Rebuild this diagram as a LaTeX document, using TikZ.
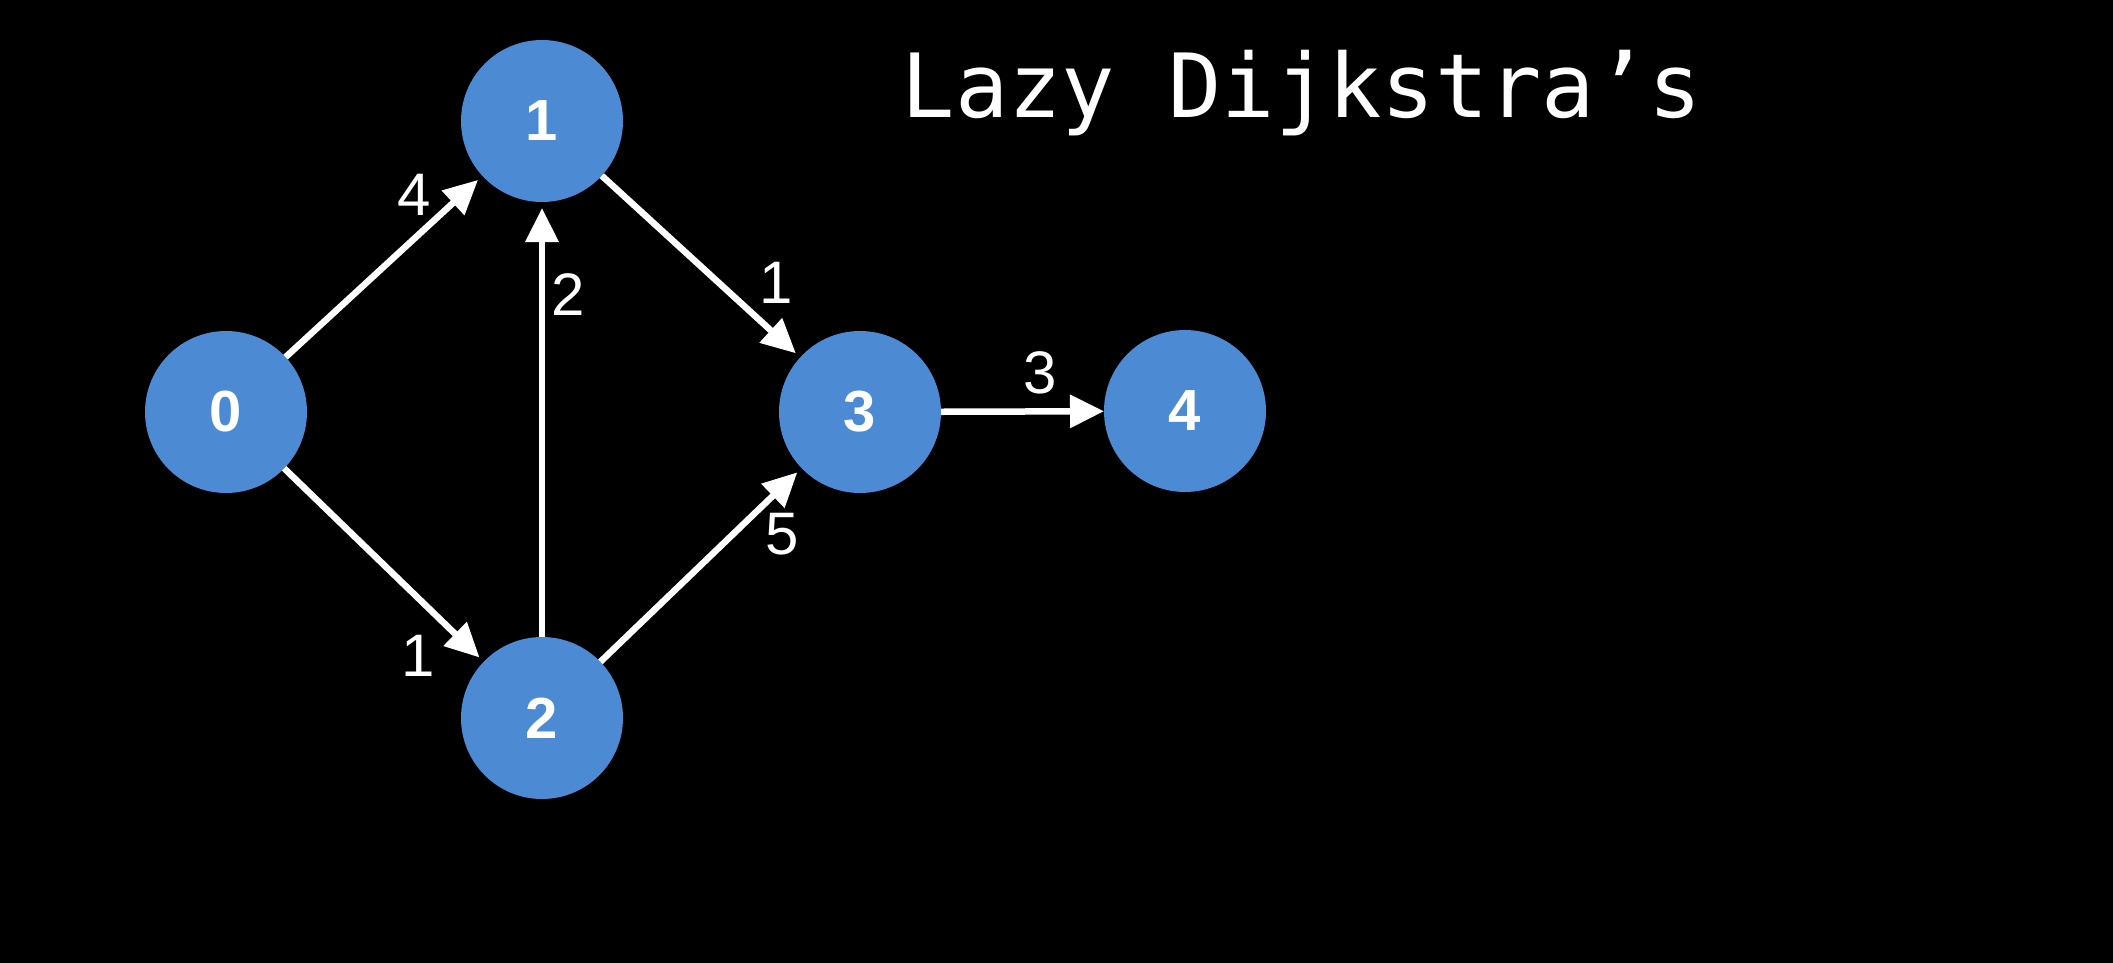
\documentclass[tikz,border=0pt]{standalone}
\usepackage{fontspec}
\setmainfont{Liberation Sans}
\newfontfamily\titlefont{DejaVu Sans Mono}
\usetikzlibrary{arrows.meta}
\definecolor{nodeblue}{RGB}{76,138,212}
\tikzset{
  vert/.style={circle, fill=nodeblue, minimum size=162pt, inner sep=0pt, outer sep=0pt,
    text=white, font=\fontsize{58}{58}\selectfont\bfseries},
  edge/.style={draw=white, line width=6.5pt, -{Triangle[length=34pt,width=32pt]}, shorten >=6pt},
  wlabel/.style={text=white, font=\fontsize{60}{60}\selectfont, inner sep=0pt},
}
\begin{document}
\begin{tikzpicture}[x=1pt,y=-1pt]
\useasboundingbox (0,0) rectangle (2113,962);
\fill[black] (-20,-20) rectangle (2133,982);
\node[vert] (n0) at (226,412) {0};
\node[vert] (n1) at (542,121) {1};
\node[vert] (n2) at (542,718) {2};
\node[vert] (n3) at (860,412) {3};
\node[vert] (n4) at (1185,411) {4};
\draw[edge] (n0) -- (n1);
\draw[edge] (n0) -- (n2);
\draw[edge] (n2) -- (n1);
\draw[edge] (n1) -- (n3);
\draw[edge] (n2) -- (n3);
\draw[edge, shorten >=0pt] (n3) -- (n4);
\node[wlabel] (l01) at (414,195) {4};
\node[wlabel] (l21) at (568,295) {2};
\node[wlabel] (l13) at (776,283) {1};
\node[wlabel] (l02) at (418,656) {1};
\node[wlabel] (l23) at (782,534) {5};
\node[wlabel] (l34) at (1040,373) {3};
\node[text=white, anchor=base, inner sep=0pt, font=\titlefont\fontsize{88.6}{88.6}\selectfont] (title) at (1302,117) {Lazy Dijkstra’s};
\end{tikzpicture}
\end{document}
